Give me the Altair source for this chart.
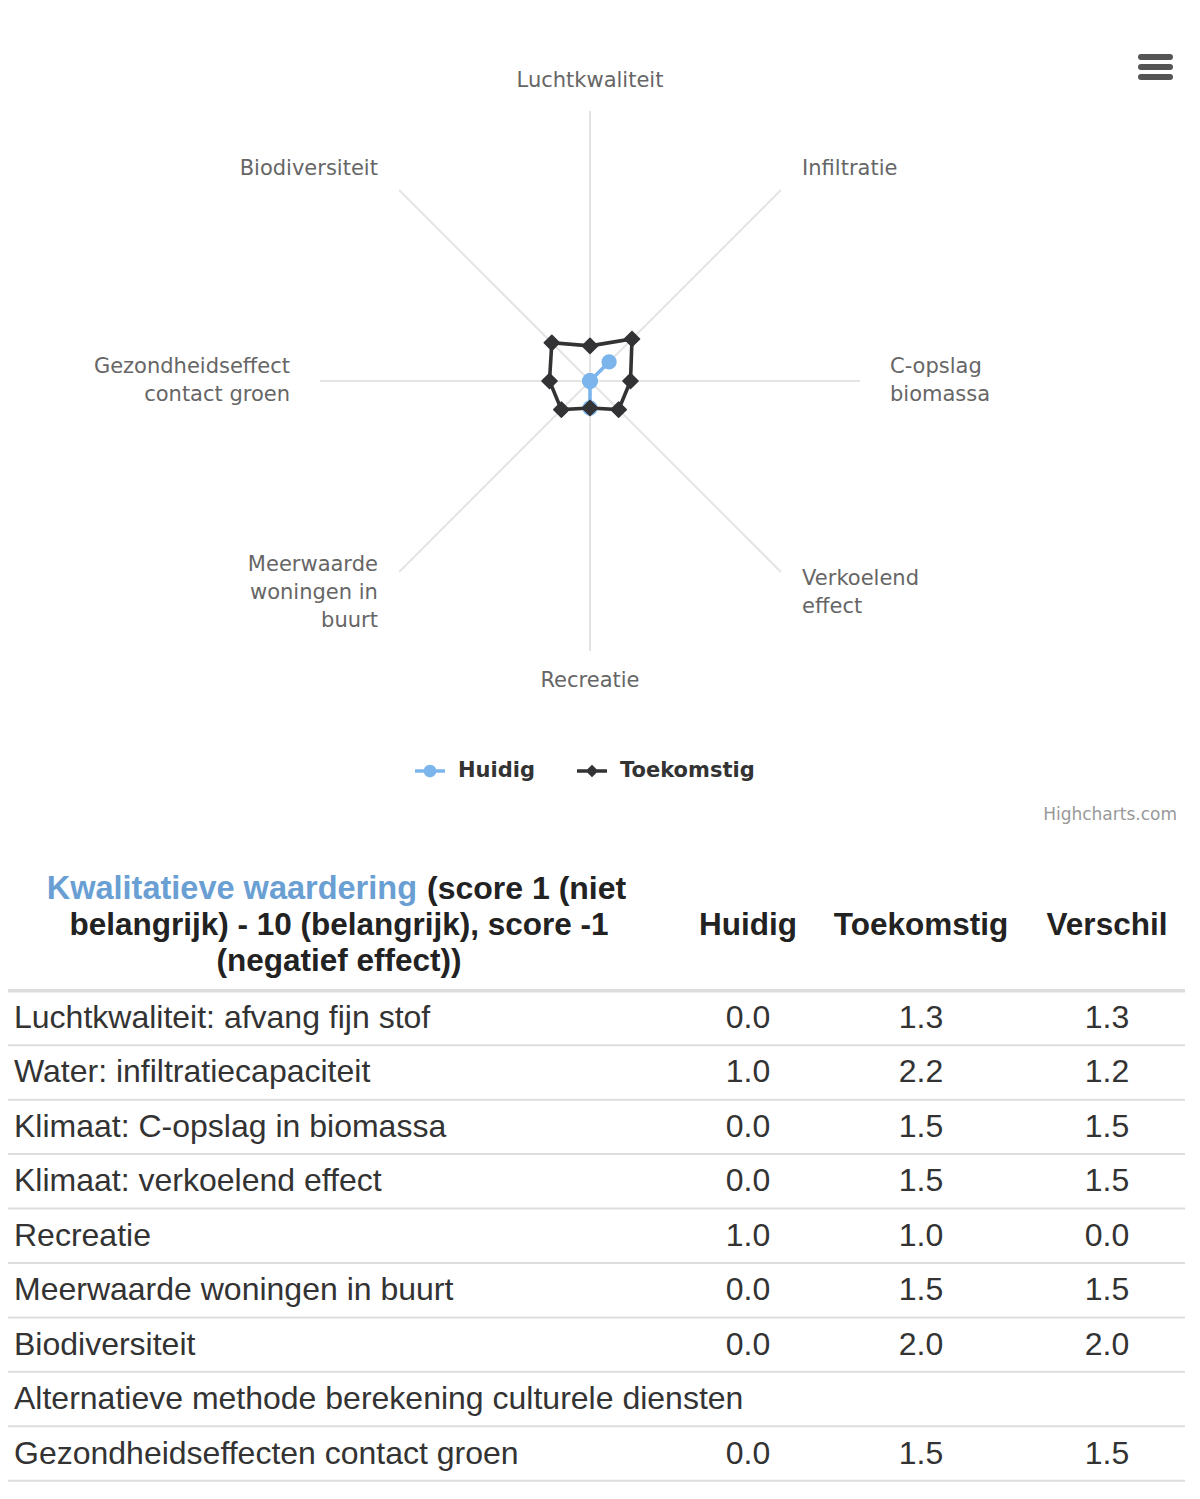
import altair as alt
import pandas as pd

# ---------------- data ----------------
categories = ["Luchtkwaliteit", "Infiltratie", "C-opslag\nbiomassa", "Verkoelend\neffect",
              "Recreatie", "Meerwaarde\nwoningen in\nbuurt", "Gezondheidseffect\ncontact groen",
              "Biodiversiteit"]
series_names = ["Huidig", "Toekomstig"]
huidig = [0.0, 1.0, 0.0, 0.0, 1.0, 0.0, 0.0, 0.0]
toekomstig = [1.3, 2.2, 1.5, 1.5, 1.0, 1.5, 1.5, 2.0]

table_rows = ["Luchtkwaliteit: afvang fijn stof", "Water: infiltratiecapaciteit",
              "Klimaat: C-opslag in biomassa", "Klimaat: verkoelend effect", "Recreatie",
              "Meerwaarde woningen in buurt", "Biodiversiteit",
              "Alternatieve methode berekening culturele diensten",
              "Gezondheidseffecten contact groen"]
table_huidig = [0.0, 1.0, 0.0, 0.0, 1.0, 0.0, 0.0, None, 0.0]
table_toekomstig = [1.3, 2.2, 1.5, 1.5, 1.0, 1.5, 2.0, None, 1.5]
table_verschil = [1.3, 1.2, 1.5, 1.5, 0.0, 1.5, 2.0, None, 1.5]
value_columns = ["Huidig", "Toekomstig", "Verschil"]
header_link = "Kwalitatieve waardering"
header_rest = ["(score 1 (niet", "belangrijk) - 10 (belangrijk), score -1", "(negatief effect))"]
credit_text = "Highcharts.com"

# ---------------- layout / style ----------------
W, H = 1184, 1483
CX, CY, PPU = 582, 373, 27.0        # radar centre (px) and px per unit
RMAX, RLABEL = 10, 11.11
LABEL_LH = 28
n = len(categories)
series_colors = ["#7cb5ec", "#333336"]
legend_paths = [
    "M-1,-0.12L1,-0.12L1,0.12L-1,0.12Z M0.42,0A0.42,0.42 0 1,1 -0.42,0A0.42,0.42 0 1,1 0.42,0Z",
    "M-1,-0.12L1,-0.12L1,0.12L-1,0.12Z M0,-0.42L0.42,0L0,0.42L-0.42,0Z",
]
ROW0, PITCH = 1010.0, 54.44
COL_X = {"Huidig": 740, "Toekomstig": 913, "Verschil": 1099}
LABEL_X, HEADER_CX = 6, 331
HEADER_ROWS = [-2.37, -1.69, -1.03]
FONT_T = "Liberation Sans"
FONT_H = "DejaVu Sans"

xs = alt.Scale(domain=[-CX / PPU, (W - CX) / PPU], nice=False, zero=False)
ys = alt.Scale(domain=[(CY - H) / PPU, CY / PPU], nice=False, zero=False)

# ---------------- radar ----------------
cat_df = pd.DataFrame({"cat": categories, "k": list(range(n))})
ang = f"datum.k*2*PI/{n}"

spokes = (alt.Chart(cat_df)
          .transform_calculate(ang=ang)
          .transform_calculate(x0="0", y0="0")
          .transform_calculate(x1=f"{RMAX}*sin(datum.ang)")
          .transform_calculate(y1=f"{RMAX}*cos(datum.ang)")
          .mark_rule(color="#e4e4e4", strokeWidth=2)
          .encode(x=alt.X("x0:Q", scale=xs, axis=None), y=alt.Y("y0:Q", scale=ys, axis=None),
                  x2="x1:Q", y2="y1:Q"))

def label_layer(cond, align):
    return (alt.Chart(cat_df)
            .transform_calculate(ang=ang)
            .transform_calculate(s="sin(datum.ang)")
            .transform_calculate(nl="length(split(datum.cat, '\\n'))")
            .transform_calculate(lx=f"{RLABEL}*sin(datum.ang)")
            .transform_calculate(ly=f"{RLABEL}*cos(datum.ang) + (datum.nl - 1)*{LABEL_LH / 2 / PPU}")
            .transform_filter(cond)
            .mark_text(align=align, baseline="middle", font=FONT_H, fontSize=21,
                       color="#666666", lineBreak="\n", lineHeight=LABEL_LH)
            .encode(x=alt.X("lx:Q", scale=xs, axis=None), y=alt.Y("ly:Q", scale=ys, axis=None),
                    text="cat:N"))

labels = [label_layer("datum.s > 0.01", "left"),
          label_layer("datum.s < -0.01", "right"),
          label_layer("abs(datum.s) <= 0.01", "center")]

rows = []
for s, vals in zip(series_names, [huidig, toekomstig]):
    for k in range(n + 1):
        rows.append({"series": s, "k": k, "value": vals[k % n]})
series_df = pd.DataFrame(rows)

def series_base(name):
    return (alt.Chart(series_df)
            .transform_filter(alt.datum.series == name)
            .transform_calculate(ang=ang)
            .transform_calculate(px="datum.value*sin(datum.ang)")
            .transform_calculate(py="datum.value*cos(datum.ang)"))

radar_layers = [spokes] + labels
shapes = ["circle", "diamond"]
sizes = [190, 230]
for name, col, shp, sz in zip(series_names, series_colors, shapes, sizes):
    line = series_base(name).mark_line(color=col, strokeWidth=3.6).encode(
        x=alt.X("px:Q", scale=xs, axis=None), y=alt.Y("py:Q", scale=ys, axis=None),
        order=alt.Order("k:Q"))
    pts = series_base(name).transform_filter(f"datum.k < {n}").mark_point(
        filled=True, shape=shp, size=sz, color=col, opacity=1,
        stroke=col, strokeWidth=1.5, strokeJoin="round").encode(
        x=alt.X("px:Q", scale=xs, axis=None), y=alt.Y("py:Q", scale=ys, axis=None))
    radar_layers += [line, pts]

leg = alt.Legend(title=None, orient="none", legendX=407, legendY=748, direction="horizontal",
                 labelFont=FONT_H, labelFontSize=21, labelFontWeight="bold", labelColor="#333333",
                 symbolSize=900, labelOffset=13, columnPadding=42, padding=0,
                 symbolStrokeWidth=0)
legend_layer = (alt.Chart(pd.DataFrame({"series": series_names}))
                .transform_filter("false")
                .mark_point(filled=True, size=900, opacity=1)
                .encode(color=alt.Color("series:N", scale=alt.Scale(domain=series_names, range=series_colors), legend=leg),
                        shape=alt.Shape("series:N", scale=alt.Scale(domain=series_names, range=legend_paths), legend=leg)))
radar_layers.append(legend_layer)
radar = alt.layer(*radar_layers)

# ---------------- table ----------------
tx = alt.Scale(domain=[0, W], nice=False, zero=False)
ty = alt.Scale(domain=[-ROW0 / PITCH, (H - ROW0) / PITCH], reverse=True, nice=False, zero=False)

body_df = pd.DataFrame({"i": list(range(len(table_rows))), "label": table_rows,
                        "Huidig": table_huidig, "Toekomstig": table_toekomstig,
                        "Verschil": table_verschil})
body_df["lx"] = LABEL_X
cells = body_df.melt(id_vars=["i"], value_vars=value_columns, var_name="col", value_name="v").dropna()
cells["cx"] = cells["col"].map(COL_X)

row_labels = alt.Chart(body_df).mark_text(
    align="left", baseline="middle", font=FONT_T, fontSize=32, color="#333333").encode(
    x=alt.X("lx:Q", scale=tx, axis=None), y=alt.Y("i:Q", scale=ty, axis=None), text="label:N")

cell_text = alt.Chart(cells).mark_text(
    align="center", baseline="middle", font=FONT_T, fontSize=32, color="#333333").encode(
    x=alt.X("cx:Q", scale=tx, axis=None), y=alt.Y("i:Q", scale=ty, axis=None),
    text=alt.Text("v:Q", format=".1f"))

bounds_df = pd.DataFrame({"b": [i + 0.5 for i in range(len(table_rows))]})
row_rules = alt.Chart(bounds_df).mark_rule(color="#dddddd", strokeWidth=2).encode(
    y=alt.Y("b:Q", scale=ty, axis=None), x=alt.value(0), x2=alt.value(1177))
head_rule = alt.Chart(pd.DataFrame({"b": [-0.5]})).mark_rule(color="#dddddd", strokeWidth=3.5).encode(
    y=alt.Y("b:Q", scale=ty, axis=None), x=alt.value(0), x2=alt.value(1177))

colhead_df = pd.DataFrame({"col": value_columns, "hy": HEADER_ROWS[1]})
colhead_df["cx"] = colhead_df["col"].map(COL_X)
col_heads = alt.Chart(colhead_df).mark_text(
    align="center", baseline="middle", font=FONT_T, fontSize=31.5, fontWeight="bold", color="#222222").encode(
    x=alt.X("cx:Q", scale=tx, axis=None), y=alt.Y("hy:Q", scale=ty, axis=None), text="col:N")

link_df = pd.DataFrame({"t": [header_link], "hx": [HEADER_CX + 78], "hy": [HEADER_ROWS[0]]})
link_text = alt.Chart(link_df).mark_text(
    align="right", baseline="middle", font=FONT_T, fontSize=32.5, fontWeight="bold", color="#6a9fd4").encode(
    x=alt.X("hx:Q", scale=tx, axis=None), y=alt.Y("hy:Q", scale=ty, axis=None), text="t:N")
first_df = pd.DataFrame({"t": [header_rest[0]], "hx": [HEADER_CX + 88], "hy": [HEADER_ROWS[0]]})
first_text = alt.Chart(first_df).mark_text(
    align="left", baseline="middle", font=FONT_T, fontSize=32, fontWeight="bold", color="#222222").encode(
    x=alt.X("hx:Q", scale=tx, axis=None), y=alt.Y("hy:Q", scale=ty, axis=None), text="t:N")
rest_df = pd.DataFrame({"t": header_rest[1:], "hx": HEADER_CX, "hy": HEADER_ROWS[1:]})
rest_text = alt.Chart(rest_df).mark_text(
    align="center", baseline="middle", font=FONT_T, fontSize=31.5, fontWeight="bold", color="#222222").encode(
    x=alt.X("hx:Q", scale=tx, axis=None), y=alt.Y("hy:Q", scale=ty, axis=None), text="t:N")

table = alt.layer(row_rules, head_rule, row_labels, cell_text, col_heads, link_text, first_text, rest_text)

# ---------------- annotations ----------------
one = pd.DataFrame({"a": [0]})
menu = [alt.Chart(one).mark_rule(color="#555555", strokeWidth=6, strokeCap="round").encode(
    x=alt.value(1133), x2=alt.value(1162), y=alt.value(yy)) for yy in (49, 59, 69)]
credit = alt.Chart(pd.DataFrame({"t": [credit_text]})).mark_text(
    align="right", baseline="middle", font=FONT_H, fontSize=17, color="#999999").encode(
    x=alt.value(1169), y=alt.value(807), text="t:N")

chart = (alt.layer(radar, table, credit, *menu)
         .resolve_scale(x="independent", y="independent")
         .properties(width=W, height=H, padding=0, background="white",
                     autosize=alt.AutoSizeParams(type="none"))
         .configure_view(stroke=None))

chart.save("out.html", embed_options={"renderer": "svg", "actions": False})
